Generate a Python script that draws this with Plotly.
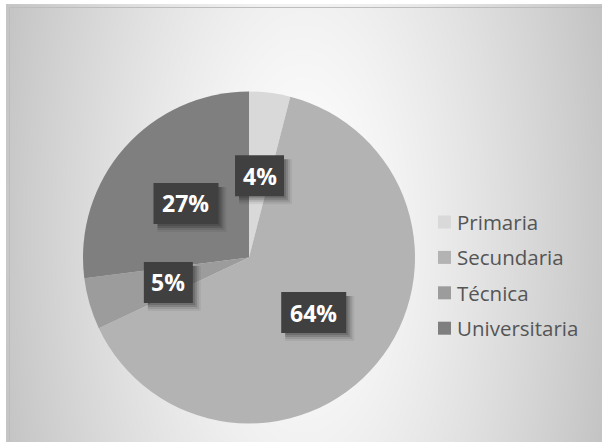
import math
import numpy as np
import plotly.graph_objects as go

# Education level distribution
categories = ["Primaria", "Secundaria", "Técnica", "Universitaria"]
values = [4, 64, 5, 27]
slice_colors = ["#d9d9d9", "#b3b3b3", "#9c9c9c", "#7f7f7f"]

W, H = 602, 442


def px(x):
    return x / W


def py(y):
    return 1 - y / H


# pie geometry in pixels
CX, CY, R = 249, 257.5, 166

fig = go.Figure()

# radial-gradient backdrop of the chart area
gx = np.linspace(10, W, 75)
gy = np.linspace(8, H, 56)
XX, YY = np.meshgrid(gx, gy)
d = np.sqrt(((XX - 303) / 300) ** 2 + ((YY - 228) / 650) ** 2)
shade = 255 - 56 * d ** 1.3
fig.add_trace(go.Heatmap(
    x=gx, y=gy, z=shade, zmin=0, zmax=255, zsmooth="best",
    colorscale=[[0, "rgb(0,0,0)"], [1, "rgb(255,255,255)"]],
    showscale=False, hoverinfo="skip", xaxis="x", yaxis="y",
))

fig.add_trace(go.Pie(
    labels=categories, values=values, sort=False, direction="clockwise",
    rotation=0, textinfo="none", hoverinfo="label+percent",
    marker=dict(colors=slice_colors, line=dict(width=0)),
    domain=dict(x=[px(CX - R), px(CX + R)], y=[py(CY + R), py(CY - R)]),
    showlegend=False,
))

annotations = []
shapes = [dict(type="rect", xref="x", yref="y", x0=9.5, x1=W + 2, y0=7.5, y1=H + 2,
               line=dict(color="#bdbdbd", width=1), fillcolor="rgba(0,0,0,0)", layer="above")]


def dotted_path(x0, y0, x1, y1, step=6.5, size=1.8):
    parts = []
    yy = y0 + 3
    while yy + size < y1:
        xx = x0 + 3
        while xx + size < x1:
            parts.append(f"M{xx:.2f},{yy:.2f}h{size}v{size}h{-size}Z")
            xx += step
        yy += step
    return "".join(parts)


# percentage labels in dark dotted boxes at half radius along each slice's mid-angle
total = sum(values)
cum = 0
for v in values:
    mid = (cum + v / 2) / total * 2 * math.pi
    cum += v
    lx = CX + 84 * math.sin(mid)
    ly = CY - 84 * math.cos(mid) + 1.5
    txt = f"{round(v / total * 100)}%"
    bw = 17 + 16 * len(txt)
    bh = 41
    x0, x1 = lx - bw / 2, lx + bw / 2
    y0, y1 = ly - bh / 2, ly + bh / 2
    # soft drop shadow
    for off, grow, alpha in [(6, 2, 0.06), (5, 1, 0.09), (4, 0, 0.14), (3, -1, 0.14)]:
        shapes.append(dict(type="rect", xref="x", yref="y",
                           x0=x0 + off - grow, x1=x1 + off + grow,
                           y0=y0 + off - grow, y1=y1 + off + grow,
                           fillcolor=f"rgba(0,0,0,{alpha})", line=dict(width=0),
                           layer="above"))
    shapes.append(dict(type="rect", xref="x", yref="y", x0=x0, x1=x1, y0=y0, y1=y1,
                       fillcolor="#404040", line=dict(width=0), layer="above"))
    shapes.append(dict(type="path", xref="x", yref="y", path=dotted_path(x0, y0, x1, y1),
                       fillcolor="#535353", line=dict(width=0), layer="above"))
    annotations.append(dict(
        x=px(lx), y=py(ly), xref="paper", yref="paper", text=txt, showarrow=False,
        xanchor="center", yanchor="middle",
        font=dict(family="Open Sans", size=23, color="white", weight="bold"),
    ))

# legend: swatch + label per category
for i, (name, col) in enumerate(zip(categories, slice_colors)):
    yc = 222 + i * 35.4
    shapes.append(dict(type="rect", xref="x", yref="y", x0=438, x1=451,
                       y0=yc - 6.5, y1=yc + 6.5, fillcolor=col, line=dict(width=0),
                       layer="above"))
    annotations.append(dict(
        x=px(455), y=py(yc), xref="paper", yref="paper", text=name,
        showarrow=False, xanchor="left", yanchor="middle",
        font=dict(family="Open Sans", size=20.5, color="#555555"),
    ))

fig.update_layout(
    width=W, height=H, margin=dict(l=0, r=0, t=0, b=0),
    paper_bgcolor="white", plot_bgcolor="white",
    xaxis=dict(range=[0, W], domain=[0, 1], visible=False, fixedrange=True),
    yaxis=dict(range=[H, 0], domain=[0, 1], visible=False, fixedrange=True),
    shapes=shapes, annotations=annotations,
)

fig.write_html("out.html")
